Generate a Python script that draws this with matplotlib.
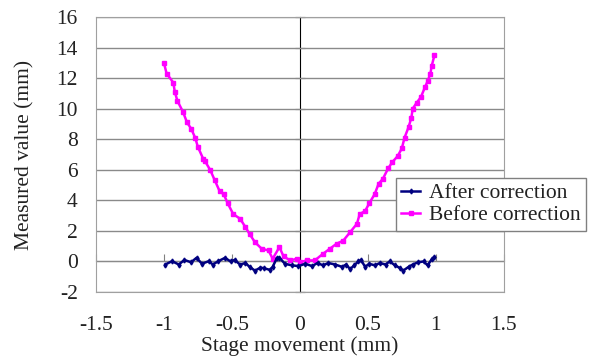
import matplotlib
matplotlib.use("Agg")
import matplotlib.pyplot as plt

after_x = [-0.99, -0.94, -0.89, -0.85, -0.80, -0.76, -0.72, -0.67, -0.64, -0.60,
           -0.55, -0.51, -0.48, -0.44, -0.40, -0.37, -0.33, -0.29, -0.26, -0.22,
           -0.20, -0.17, -0.15, -0.11, -0.06, -0.01,
           0.04, 0.09, 0.13, 0.17, 0.21, 0.26, 0.31, 0.34, 0.37, 0.40,
           0.43, 0.45, 0.48, 0.51, 0.55, 0.59, 0.63, 0.66, 0.70, 0.74,
           0.76, 0.80, 0.83, 0.87, 0.91, 0.94, 0.97, 0.99]
after_y = [-0.2, 0.02, -0.2, 0.1, -0.05, 0.24, -0.15, 0.02, -0.2, 0.02,
           0.24, 0.0, 0.1, -0.2, -0.1, -0.35, -0.6, -0.4, -0.45, -0.55,
           -0.35, 0.2, 0.25, -0.15, -0.25, -0.3,
           -0.15, -0.3, -0.1, -0.25, -0.1, -0.2, -0.35, -0.2, -0.5, -0.25,
           0.0, 0.1, -0.35, -0.15, -0.25, -0.1, -0.2, 0.0, -0.25, -0.45,
           -0.6, -0.35, -0.2, -0.05, 0.0, -0.25, 0.15, 0.3]

before_x = [-1.0, -0.98, -0.93, -0.92, -0.90, -0.86, -0.83, -0.80, -0.77, -0.75,
            -0.71, -0.70, -0.66, -0.625, -0.59, -0.56, -0.53, -0.49, -0.44, -0.40,
            -0.37, -0.33, -0.28, -0.23, -0.20, -0.15, -0.12, -0.07, -0.02, 0.0,
            0.05, 0.11, 0.17, 0.22, 0.27, 0.32, 0.37, 0.42, 0.44, 0.48,
            0.51, 0.55, 0.58, 0.61, 0.65, 0.68, 0.72, 0.75, 0.77, 0.80,
            0.82, 0.83, 0.86, 0.89, 0.92, 0.94, 0.96, 0.97, 0.99]
before_y = [13.0, 12.3, 11.7, 11.1, 10.5, 9.8, 9.1, 8.7, 8.1, 7.5,
            6.7, 6.6, 6.0, 5.3, 4.6, 4.4, 3.8, 3.1, 2.8, 2.25,
            1.8, 1.26, 0.83, 0.72, 0.18, 0.94, 0.33, 0.07, 0.18, -0.05,
            0.07, 0.07, 0.5, 0.83, 1.16, 1.37, 1.92, 2.47, 3.1, 3.3,
            3.8, 4.4, 5.1, 5.4, 6.1, 6.5, 6.9, 7.4, 8.1, 8.8,
            9.4, 10.0, 10.4, 10.75, 11.4, 11.8, 12.3, 12.8, 13.5]

x_ticks = [-1.5, -1, -0.5, 0, 0.5, 1, 1.5]
x_labels = ["-1.5", "-1", "-0.5", "0", "0.5", "1", "1.5"]
y_ticks = [-2, 0, 2, 4, 6, 8, 10, 12, 14, 16]
y_labels = ["-2", "0", "2", "4", "6", "8", "10", "12", "14", "16"]

plt.rcParams["font.family"] = ["Liberation Serif", "DejaVu Serif"]
plt.rcParams["font.size"] = 15.5

fig = plt.figure(figsize=(5.92, 3.61), dpi=100)
ax = fig.add_axes([0.162, 0.191, 0.689, 0.762])

ax.plot(after_x, after_y, color="#000080", lw=1.8, marker="d", ms=2.5,
        label="After correction", zorder=4)
ax.plot(before_x, before_y, color="#ff00ff", lw=1.8, marker="s", ms=3,
        label="Before correction", zorder=3)

ax.set_xlim(-1.5, 1.5)
ax.set_ylim(-2, 16)
ax.set_xticks(x_ticks)
ax.set_xticklabels(x_labels)
ax.set_yticks(y_ticks)
ax.set_yticklabels(y_labels)
ax.tick_params(axis="both", length=0, colors="#222222")
ax.tick_params(axis="x", pad=17)
ax.tick_params(axis="y", pad=13)
ax.grid(axis="y", color="#8a8a8a", lw=1)
for s in ax.spines.values():
    s.set_color("#a0a0a0")

# axis lines crossing at the origin, like the spreadsheet original
y0 = (0 - ax.get_ylim()[0]) / (ax.get_ylim()[1] - ax.get_ylim()[0])
secx = ax.secondary_xaxis(y0)
secx.set_xticks(x_ticks)
secx.set_xticklabels([])
secx.tick_params(direction="in", length=5, color="#808080")
secx.spines["bottom"].set_color("#808080")
secy = ax.secondary_yaxis(0.5)
secy.set_yticks(y_ticks)
secy.set_yticklabels([])
secy.tick_params(direction="inout", length=7, color="#333333")
secy.spines["left"].set_color("#333333")

ax.set_xlabel("Stage movement (mm)", labelpad=1, color="#222222")
ax.set_ylabel("Measured value (mm)", labelpad=16, color="#222222")

leg = ax.legend(loc="upper left", bbox_to_anchor=(0.735, 0.415), fancybox=False,
                framealpha=1, edgecolor="#808080", handlelength=0.9,
                handletextpad=0.4, borderpad=0.25, labelspacing=0.08,
                borderaxespad=0)
leg.get_frame().set_linewidth(1)
for t in leg.get_texts():
    t.set_color("#222222")

fig.savefig("out.png", dpi=100)
